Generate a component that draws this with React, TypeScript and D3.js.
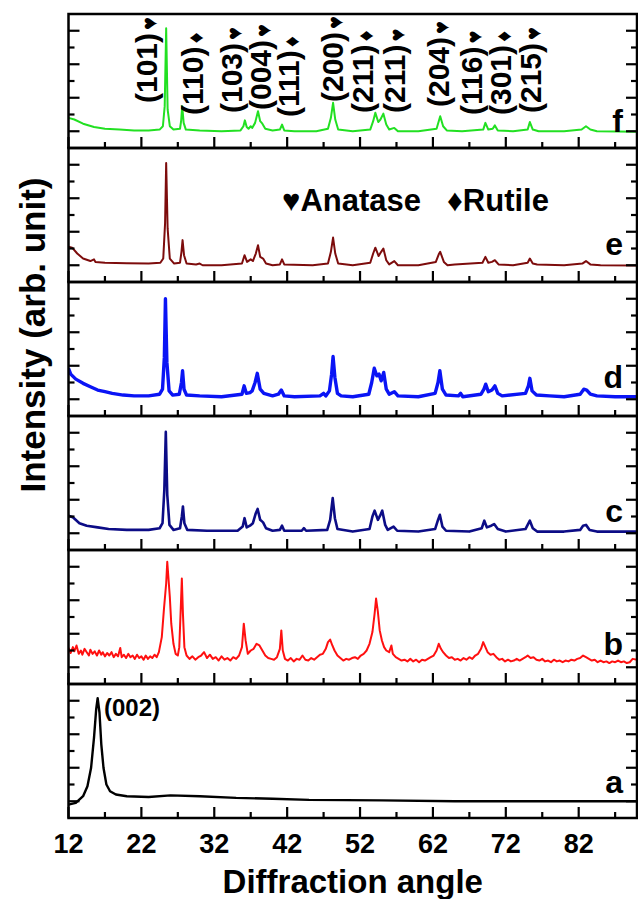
import React, { useEffect, useRef } from 'react';
import * as d3 from 'd3';

type Pt = [number, number];

// x range of the scans (2-theta, degrees)
const xDomain: [number, number] = [12, 90];
const xMajorTicks = [12, 22, 32, 42, 52, 62, 72, 82];
const xMinorTicks = [17, 27, 37, 47, 57, 67, 77, 87];
const yTicks = [1, 2, 3, 4, 5, 6, 7];

// intensity, panel units 0..8
const sampleF: Pt[] = [
  [12, 1.8], [12.8, 1.7], [14, 1.45], [15.5, 1.25], [17, 1.15], [19, 1.1], [21, 1.05], [23, 1.05],
  [24.5, 1.1], [24.95, 1.3], [25.2, 2.5], [25.4, 7.15], [25.6, 2.3], [25.9, 1.3], [26.4, 1.1],
  [27.3, 1.15], [27.45, 1.6], [27.6, 2.5], [27.8, 1.5], [28.1, 1.1], [30, 1.05], [33, 1.0],
  [35.6, 1.05], [36.0, 1.3], [36.2, 1.65], [36.45, 1.25], [36.7, 1.15], [37.0, 1.3], [37.2, 1.2],
  [37.6, 1.5], [38.0, 2.2], [38.3, 1.6], [38.6, 1.45], [39.0, 1.15], [40, 1.05], [41.0, 1.1],
  [41.3, 1.4], [41.6, 1.05], [43, 1.0], [46, 1.0], [47.6, 1.15], [48.0, 1.8], [48.3, 2.7],
  [48.6, 1.7], [49.0, 1.1], [51, 1.0], [53.4, 1.1], [53.8, 1.6], [54.1, 2.1], [54.5, 1.55],
  [54.8, 1.7], [55.2, 2.05], [55.6, 1.4], [56.0, 1.1], [56.7, 1.2], [57.2, 1.0], [60, 1.0],
  [62.5, 1.15], [62.8, 1.6], [63.0, 1.9], [63.4, 1.3], [63.9, 1.05], [66, 1.0], [68.9, 1.1],
  [69.2, 1.5], [69.6, 1.1], [70.2, 1.15], [70.5, 1.35], [70.9, 1.05], [73, 1.0], [75.0, 1.1],
  [75.3, 1.55], [75.7, 1.1], [76.5, 1.0], [80, 1.0], [82.4, 1.1], [83.0, 1.3], [83.6, 1.1],
  [84.5, 1.0], [90, 0.97],
];

const sampleE: Pt[] = [
  [12, 2.1], [12.5, 2.05], [13.2, 1.7], [14, 1.4], [15, 1.25], [15.5, 1.35], [15.7, 1.2], [17, 1.15],
  [20, 1.12], [23, 1.1], [24.6, 1.15], [25.0, 1.4], [25.25, 3.5], [25.4, 7.1], [25.6, 3.2],
  [25.9, 1.4], [26.5, 1.1], [27.3, 1.15], [27.5, 1.8], [27.65, 2.5], [27.85, 1.6], [28.2, 1.1],
  [29.5, 1.05], [30, 1.1], [30.4, 1.0], [33, 1.0], [35.8, 1.1], [36.15, 1.6], [36.5, 1.2],
  [37.0, 1.35], [37.3, 1.25], [37.7, 1.7], [38.0, 2.2], [38.3, 1.5], [38.7, 1.4], [39.1, 1.1],
  [40, 1.0], [41.0, 1.05], [41.3, 1.35], [41.6, 1.05], [45.5, 1.0], [47.6, 1.1], [48.0, 1.8],
  [48.3, 2.65], [48.6, 1.7], [49.0, 1.1], [51, 1.0], [53.4, 1.15], [53.8, 1.7], [54.1, 2.05],
  [54.55, 1.55], [54.9, 1.8], [55.2, 2.0], [55.6, 1.3], [56.0, 1.05], [56.7, 1.25], [57.2, 1.0],
  [60, 1.0], [62.4, 1.2], [62.8, 1.65], [63.0, 1.8], [63.5, 1.2], [64.0, 1.0], [65, 1.05],
  [68.8, 1.15], [69.2, 1.5], [69.6, 1.15], [70.1, 1.2], [70.5, 1.3], [71.0, 1.05], [73, 1.0],
  [75.0, 1.15], [75.3, 1.4], [75.7, 1.1], [76.3, 1.05], [80, 1.0], [82.5, 1.1], [83.0, 1.25],
  [83.6, 1.05], [85, 1.0], [90, 0.98],
];

const sampleD: Pt[] = [
  [12, 2.85], [12.3, 2.5], [13, 2.2], [14, 1.95], [15, 1.75], [16, 1.55], [17, 1.45], [18, 1.35],
  [19.5, 1.25], [21, 1.2], [23, 1.2], [24.5, 1.3], [24.9, 1.6], [25.15, 3.5], [25.3, 7.0],
  [25.5, 3.2], [25.8, 1.5], [26.3, 1.25], [27.2, 1.3], [27.5, 2.0], [27.65, 2.7], [27.85, 1.6],
  [28.2, 1.25], [30, 1.2], [33, 1.15], [35.8, 1.3], [36.1, 1.8], [36.4, 1.35], [36.9, 1.4],
  [37.2, 1.5], [37.6, 2.0], [37.9, 2.55], [38.3, 1.6], [38.8, 1.35], [40, 1.2], [40.8, 1.3],
  [41.2, 1.55], [41.6, 1.2], [43, 1.15], [46.5, 1.2], [47.0, 1.35], [47.3, 1.2], [47.8, 1.5],
  [48.1, 2.5], [48.3, 3.55], [48.55, 2.3], [48.9, 1.35], [49.4, 1.2], [51, 1.15], [53.2, 1.3],
  [53.6, 2.0], [53.95, 2.85], [54.3, 2.4], [54.6, 2.5], [54.9, 2.1], [55.25, 2.6], [55.6, 1.6],
  [56.0, 1.3], [56.7, 1.45], [57.2, 1.2], [60, 1.15], [62.3, 1.35], [62.7, 2.0], [62.95, 2.7],
  [63.3, 1.6], [63.8, 1.25], [65.5, 1.2], [65.8, 1.35], [66.1, 1.15], [68.6, 1.3], [69.0, 1.6],
  [69.25, 1.9], [69.6, 1.45], [70.1, 1.55], [70.5, 1.8], [70.9, 1.35], [71.5, 1.2], [74.7, 1.35],
  [75.1, 1.8], [75.3, 2.25], [75.6, 1.5], [76.2, 1.25], [78, 1.2], [80, 1.15], [82.2, 1.3],
  [82.7, 1.6], [83.1, 1.55], [83.6, 1.3], [84.5, 1.2], [87, 1.15], [90, 1.15],
];

const sampleC: Pt[] = [
  [12, 2.05], [12.6, 1.95], [13.5, 1.6], [14.5, 1.45], [16, 1.35], [17.5, 1.25], [20, 1.2], [23, 1.2],
  [24.5, 1.3], [24.9, 1.6], [25.15, 3.6], [25.35, 7.05], [25.55, 3.3], [25.85, 1.5], [26.4, 1.2],
  [27.3, 1.3], [27.55, 2.0], [27.7, 2.6], [27.9, 1.6], [28.3, 1.2], [31, 1.15], [35.2, 1.15],
  [35.9, 1.4], [36.15, 1.9], [36.45, 1.35], [36.9, 1.45], [37.3, 1.6], [37.7, 2.2], [37.95, 2.45],
  [38.3, 1.8], [38.7, 1.65], [39.1, 1.3], [40, 1.15], [41.0, 1.2], [41.3, 1.45], [41.6, 1.15],
  [44.0, 1.15], [44.3, 1.3], [44.6, 1.15], [47.5, 1.2], [47.9, 1.8], [48.25, 3.1], [48.55, 1.9],
  [48.9, 1.25], [51, 1.1], [53.3, 1.25], [53.7, 2.0], [54.0, 2.35], [54.45, 1.8], [54.75, 2.05],
  [55.05, 2.35], [55.45, 1.5], [55.8, 1.2], [56.6, 1.4], [57.1, 1.15], [60, 1.1], [62.3, 1.25],
  [62.7, 1.8], [62.95, 2.1], [63.3, 1.4], [63.8, 1.15], [67, 1.1], [68.7, 1.3], [69.05, 1.75],
  [69.4, 1.35], [70.0, 1.45], [70.4, 1.55], [70.9, 1.25], [72, 1.1], [74.7, 1.25], [75.05, 1.55],
  [75.3, 1.75], [75.7, 1.3], [76.3, 1.1], [80, 1.1], [82.2, 1.2], [82.6, 1.45], [83.0, 1.5],
  [83.5, 1.2], [84.5, 1.1], [90, 1.1],
];

const sampleB: Pt[] = [
  [12.0, 2.15], [12.3, 1.85], [12.6, 2.2], [12.8, 1.95], [13.1, 2.3], [13.4, 1.8], [13.7, 2.0],
  [13.9, 1.75], [14.2, 2.1], [14.5, 1.9], [14.8, 1.7], [15.0, 2.05], [15.3, 1.8], [15.6, 1.95],
  [15.9, 1.7], [16.2, 2.0], [16.5, 1.75], [16.7, 1.9], [17.0, 1.65], [17.3, 1.85], [17.6, 1.7],
  [17.9, 1.9], [18.2, 1.6], [18.5, 1.8], [18.8, 1.65], [19.1, 2.15], [19.3, 1.6], [19.6, 1.75],
  [19.9, 1.55], [20.2, 1.8], [20.5, 1.6], [20.8, 1.7], [21.1, 1.5], [21.4, 1.75], [21.7, 1.55],
  [22.0, 1.65], [22.3, 1.45], [22.6, 1.7], [22.9, 1.5], [23.2, 1.65], [23.5, 1.55], [23.8, 1.75],
  [24.1, 1.6], [24.4, 1.9], [24.8, 2.8], [25.1, 4.5], [25.4, 6.0], [25.55, 7.3], [25.7, 6.4],
  [25.9, 5.2], [26.1, 3.6], [26.4, 2.4], [26.7, 1.8], [27.0, 1.7], [27.2, 2.2], [27.4, 4.5],
  [27.55, 6.3], [27.7, 4.2], [27.9, 2.2], [28.2, 1.7], [28.6, 1.5], [29.0, 1.65], [29.4, 1.45],
  [29.8, 1.6], [30.2, 1.7], [30.6, 1.9], [31.0, 1.55], [31.4, 1.75], [31.8, 1.5], [32.2, 1.6],
  [32.6, 1.4], [33.0, 1.65], [33.4, 1.45], [33.8, 1.55], [34.2, 1.4], [34.6, 1.6], [35.0, 1.5],
  [35.4, 1.7], [35.8, 2.2], [36.05, 3.6], [36.3, 2.6], [36.6, 1.8], [37.0, 2.0], [37.4, 2.1],
  [37.8, 2.4], [38.2, 2.3], [38.6, 2.0], [39.0, 1.7], [39.4, 1.55], [39.8, 1.5], [40.2, 1.45],
  [40.6, 1.6], [41.0, 2.1], [41.2, 3.2], [41.4, 2.0], [41.7, 1.5], [42.1, 1.4], [42.5, 1.55],
  [42.9, 1.35], [43.3, 1.5], [43.7, 1.45], [44.1, 1.7], [44.5, 1.45], [44.9, 1.4], [45.3, 1.55],
  [45.7, 1.45], [46.1, 1.6], [46.5, 1.75], [46.9, 1.8], [47.3, 2.1], [47.6, 2.5], [47.9, 2.65],
  [48.2, 2.3], [48.5, 2.0], [48.9, 1.7], [49.3, 1.55], [49.7, 1.4], [50.1, 1.5], [50.5, 1.45],
  [50.9, 1.55], [51.3, 1.6], [51.7, 1.5], [52.1, 1.7], [52.5, 1.8], [52.9, 2.0], [53.3, 2.4],
  [53.7, 3.1], [54.0, 4.2], [54.2, 5.1], [54.45, 4.3], [54.7, 3.2], [55.0, 2.6], [55.3, 2.2],
  [55.6, 2.0], [56.0, 1.9], [56.3, 2.3], [56.5, 1.8], [56.9, 1.6], [57.3, 1.5], [57.7, 1.4],
  [58.1, 1.45], [58.5, 1.35], [58.9, 1.5], [59.3, 1.35], [59.7, 1.45], [60.1, 1.3], [60.5, 1.45],
  [60.9, 1.4], [61.3, 1.5], [61.7, 1.6], [62.1, 1.7], [62.5, 2.0], [62.8, 2.4], [63.1, 2.1],
  [63.4, 1.9], [63.8, 1.7], [64.2, 1.55], [64.6, 1.6], [65.0, 1.45], [65.4, 1.5], [65.8, 1.4],
  [66.2, 1.55], [66.6, 1.45], [67.0, 1.6], [67.4, 1.5], [67.8, 1.7], [68.2, 1.8], [68.6, 2.1],
  [68.9, 2.5], [69.2, 2.2], [69.5, 1.9], [69.9, 1.75], [70.3, 1.8], [70.7, 1.6], [71.1, 1.45],
  [71.5, 1.5], [71.9, 1.35], [72.3, 1.45], [72.7, 1.35], [73.1, 1.4], [73.5, 1.5], [73.9, 1.4],
  [74.3, 1.5], [74.7, 1.6], [75.0, 1.7], [75.4, 1.55], [75.8, 1.6], [76.2, 1.45], [76.6, 1.4],
  [77.0, 1.5], [77.4, 1.35], [77.8, 1.4], [78.2, 1.3], [78.6, 1.45], [79.0, 1.35], [79.4, 1.4],
  [79.8, 1.3], [80.2, 1.4], [80.6, 1.35], [81.0, 1.45], [81.4, 1.4], [81.8, 1.5], [82.2, 1.55],
  [82.6, 1.7], [83.0, 1.6], [83.4, 1.5], [83.8, 1.4], [84.2, 1.45], [84.6, 1.3], [85.0, 1.4],
  [85.4, 1.3], [85.8, 1.35], [86.2, 1.25], [86.6, 1.35], [87.0, 1.3], [87.4, 1.4], [87.8, 1.3],
  [88.2, 1.35], [88.6, 1.25], [89.0, 1.3], [89.4, 1.5], [90, 1.45],
];

const sampleA: Pt[] = [
  [12, 0.8], [13, 0.9], [14, 1.3], [14.6, 1.9], [15.1, 3.0], [15.5, 4.8], [15.8, 6.5], [16.0, 7.15],
  [16.25, 6.3], [16.5, 4.4], [16.8, 3.0], [17.2, 2.0], [17.7, 1.6], [18.5, 1.4], [20, 1.3],
  [23, 1.25], [26, 1.35], [30, 1.3], [35, 1.2], [40, 1.15], [45, 1.08], [55, 1.05], [65, 1.0],
  [75, 1.0], [90, 1.0],
];

const sampleLabels = ['f', 'e', 'd', 'c', 'b', 'a'];

// reflections marked on panel f
const peakAngles = [22.8, 29.1, 34.5, 38.4, 42.2, 48.3, 52.4, 56.8, 62.9, 67.4, 71.3, 75.5];
const peakIndices = ['(101)', '(110)', '(103)', '(004)', '(111)', '(200)', '(211)', '(211)', '(204)', '(116)', '(301)', '(215)'];
const peakPhases = ['A', 'R', 'A', 'A', 'R', 'A', 'R', 'A', 'A', 'A', 'R', 'A'];

function App() {
  const ref = useRef<SVGSVGElement>(null);

  useEffect(() => {
    const W = 638;
    const H = 899;
    const left = 68.5;
    const right = 637;
    const top = 14;
    const panelH = 134;
    const font = '"Liberation Sans", Arial, sans-serif';

    const svg = d3.select(ref.current);
    svg.selectAll('*').remove();
    svg.attr('width', W).attr('height', H);

    const x = d3.scaleLinear().domain(xDomain).range([left, right]);

    const series = [sampleF, sampleE, sampleD, sampleC, sampleB, sampleA];
    const colors = ['#22e022', '#7d0c0c', '#0a14f5', '#0c0c86', '#ff1010', '#000000'];
    const widths = [2, 2, 3.4, 2.6, 2, 2.4];
    const labelLift = [16, 27, 28, 28, 29, 25];

    series.forEach((data, i) => {
      const pTop = top + i * panelH;
      const pBot = pTop + panelH;
      const y = d3.scaleLinear().domain([0, 8]).range([pBot, pTop]);
      const g = svg.append('g');

      g.append('clipPath')
        .attr('id', `clip${i}`)
        .append('rect')
        .attr('x', left)
        .attr('y', pTop)
        .attr('width', right - left)
        .attr('height', panelH);

      const line = d3
        .line<Pt>()
        .x((d) => x(d[0]))
        .y((d) => y(d[1]));

      g.append('path')
        .datum(data)
        .attr('clip-path', `url(#clip${i})`)
        .attr('fill', 'none')
        .attr('stroke', colors[i])
        .attr('stroke-width', widths[i])
        .attr('stroke-linejoin', 'round')
        .attr('d', line);

      // bottom ticks (inward)
      xMajorTicks.forEach((t) => {
        g.append('line').attr('x1', x(t)).attr('x2', x(t)).attr('y1', pBot).attr('y2', pBot - 11)
          .attr('stroke', '#000').attr('stroke-width', 2.2);
      });
      xMinorTicks.forEach((t) => {
        g.append('line').attr('x1', x(t)).attr('x2', x(t)).attr('y1', pBot).attr('y2', pBot - 6)
          .attr('stroke', '#000').attr('stroke-width', 2.2);
      });
      // left and right ticks
      yTicks.forEach((t) => {
        const len = t % 2 === 1 ? 11 : 6;
        g.append('line').attr('x1', left).attr('x2', left + len).attr('y1', y(t)).attr('y2', y(t))
          .attr('stroke', '#000').attr('stroke-width', 2.2);
        g.append('line').attr('x1', right).attr('x2', right - len).attr('y1', y(t)).attr('y2', y(t))
          .attr('stroke', '#000').attr('stroke-width', 2.2);
      });

      g.append('rect')
        .attr('x', left)
        .attr('y', pTop)
        .attr('width', right - left)
        .attr('height', panelH)
        .attr('fill', 'none')
        .attr('stroke', '#000')
        .attr('stroke-width', 2.5);

      g.append('text')
        .attr('x', 623)
        .attr('y', pBot - labelLift[i])
        .attr('text-anchor', 'end')
        .attr('font-family', font)
        .attr('font-weight', 'bold')
        .attr('font-size', 32)
        .text(sampleLabels[i]);
    });

    const bottom = top + 6 * panelH;

    // x tick labels
    svg.append('g')
      .selectAll('text')
      .data(xMajorTicks)
      .enter()
      .append('text')
      .attr('x', (d) => x(d))
      .attr('y', bottom + 35)
      .attr('text-anchor', 'middle')
      .attr('font-family', font)
      .attr('font-weight', 'bold')
      .attr('font-size', 27)
      .text((d) => d);

    svg.append('text')
      .attr('x', (left + right) / 2)
      .attr('y', 893)
      .attr('text-anchor', 'middle')
      .attr('font-family', font)
      .attr('font-weight', 'bold')
      .attr('font-size', 33)
      .text('Diffraction angle');

    svg.append('text')
      .attr('transform', 'translate(45,335) rotate(-90)')
      .attr('text-anchor', 'middle')
      .attr('font-family', font)
      .attr('font-weight', 'bold')
      .attr('font-size', 35)
      .text('Intensity (arb. unit)');

    // peak labels on panel f
    const labelBottoms = [103, 115, 113, 110, 117, 102, 113, 113, 107, 115, 115, 113];
    peakAngles.forEach((a, i) => {
      const t = svg.append('text')
        .attr('transform', `translate(${x(a) + 10},${labelBottoms[i]}) rotate(-90)`)
        .attr('font-family', font)
        .attr('font-weight', 'bold')
        .attr('font-size', 30);
      t.append('tspan').text(peakIndices[i]);
      t.append('tspan')
        .attr('font-size', 22)
        .attr('dx', 3)
        .text(peakPhases[i] === 'A' ? '\u2665' : '\u2666');
    });

    // phase legend on panel e
    svg.append('text')
      .attr('x', 282)
      .attr('y', 211)
      .attr('font-family', font)
      .attr('font-weight', 'bold')
      .attr('font-size', 31)
      .text('\u2665Anatase');
    svg.append('text')
      .attr('x', 447)
      .attr('y', 211)
      .attr('font-family', font)
      .attr('font-weight', 'bold')
      .attr('font-size', 31)
      .text('\u2666Rutile');

    svg.append('text')
      .attr('x', 104)
      .attr('y', 716)
      .attr('font-family', font)
      .attr('font-weight', 'bold')
      .attr('font-size', 24)
      .text('(002)');
  }, []);

  return (
    <div style={{ position: 'absolute', left: 0, top: 0 }}>
      <svg ref={ref} style={{ display: 'block', background: '#fff' }} />
    </div>
  );
}

export default App;
